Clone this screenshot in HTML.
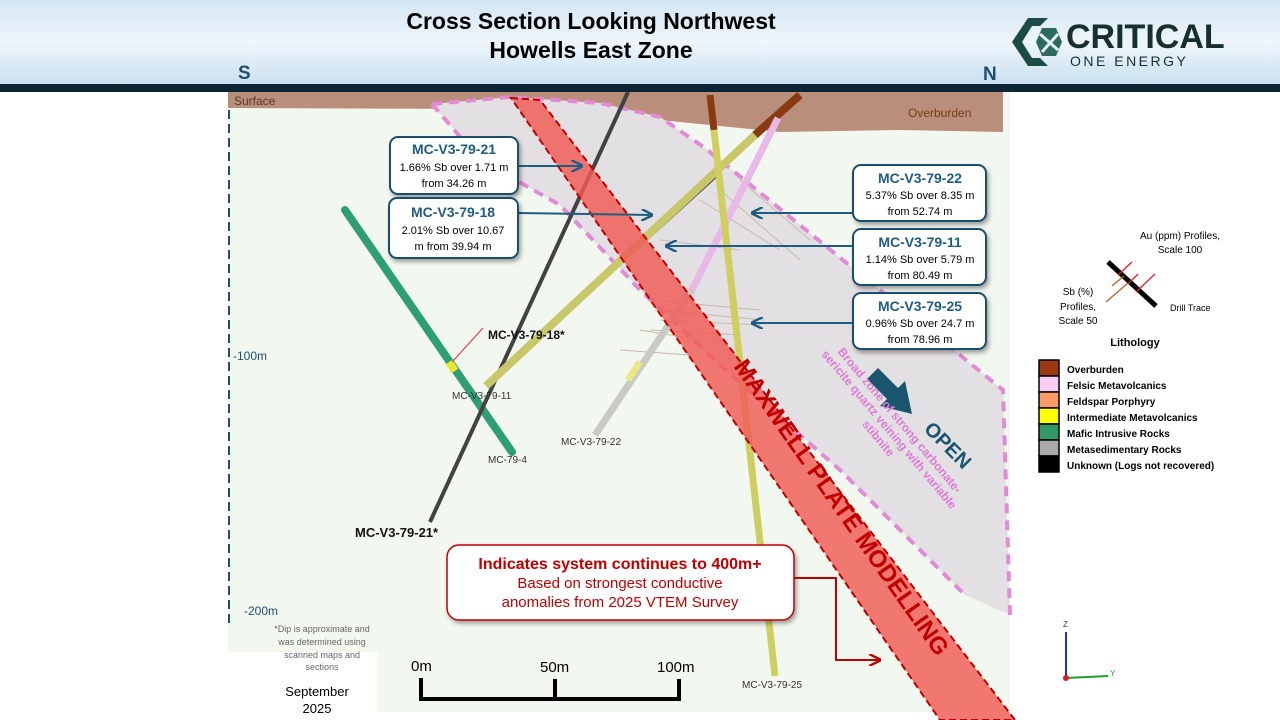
<!DOCTYPE html>
<html><head><meta charset="utf-8"><style>
html,body{margin:0;padding:0;width:1280px;height:720px;overflow:hidden;background:#fff;font-family:"Liberation Sans",sans-serif}
</style></head><body>
<svg width="1280" height="720" viewBox="0 0 1280 720" xmlns="http://www.w3.org/2000/svg" font-family="Liberation Sans, sans-serif">
<defs>
<linearGradient id="hd" x1="0" y1="0" x2="0" y2="1"><stop offset="0" stop-color="#d4e6f4"/><stop offset="0.5" stop-color="#eef5fb"/><stop offset="1" stop-color="#c9e0f0"/></linearGradient>
<filter id="sh" x="-10%" y="-10%" width="130%" height="140%"><feDropShadow dx="2" dy="3" stdDeviation="2" flood-color="#000" flood-opacity="0.35"/></filter>
<marker id="ar" viewBox="0 0 10 10" refX="9" refY="5" markerWidth="6" markerHeight="6" orient="auto"><path d="M0,0 L10,5 L0,10" fill="none" stroke="#1f5d80" stroke-width="2"/></marker>
<marker id="arr" viewBox="0 0 10 10" refX="9" refY="5" markerWidth="6" markerHeight="6" orient="auto"><path d="M0,0 L10,5 L0,10" fill="none" stroke="#c00000" stroke-width="2"/></marker>
</defs>
<!-- header -->
<rect x="0" y="0" width="1280" height="85" fill="url(#hd)"/>
<rect x="0" y="84" width="1280" height="8" fill="#0b2535"/>
<text x="591" y="29" text-anchor="middle" font-size="23" font-weight="bold" fill="#000">Cross Section Looking Northwest</text>
<text x="591" y="58" text-anchor="middle" font-size="23" font-weight="bold" fill="#000">Howells East Zone</text>
<!-- logo -->
<g fill="#1c4a44">
<path d="M1028,18 L1048,18 L1040,26 L1032,26 L1022,42 L1032,58 L1040,58 L1048,66 L1028,66 L1012,42 Z"/>
<path d="M1042,28 L1056,28 L1062,42 L1056,56 L1042,56 L1036,42 Z" fill="#2d6b60"/>
</g>
<path d="M1040,34 L1058,50 M1058,34 L1042,52" stroke="#e6f0f6" stroke-width="3"/>
<text x="1066" y="48" font-size="34" font-weight="bold" fill="#17302e">CRITICAL</text>
<text x="1070" y="66" font-size="14" fill="#17302e" letter-spacing="2.5">ONE ENERGY</text>
<text x="238" y="79" font-size="19" font-weight="bold" fill="#1f4e6e">S</text>
<text x="983" y="80" font-size="19" font-weight="bold" fill="#1f4e6e">N</text>
<!-- map background -->
<rect x="228" y="92" width="782" height="560" fill="#f2f8ef"/>
<rect x="378" y="92" width="632" height="620" fill="#f2f8ef"/>
<!-- overburden -->
<path d="M228,92 L1003,92 L1003,132 L900,130 L780,132 L700,124 L600,114 L500,109 L228,108 Z" fill="#b98f7b"/>
<text x="234" y="105" font-size="12" fill="#5a3a2a">Surface</text>
<text x="908" y="117" font-size="12" fill="#7a3a10">Overburden</text>
<!-- grey zone -->
<path d="M432,104 L510,97 L600,103 L660,117 L705,148 L1003,390 L1010,615 L965,595 L840,470 L720,365 L640,290 L560,205 L480,160 Z" fill="#e3e0e4"/>
<path d="M432,104 L510,97 L600,103 L660,117 L705,148 L1003,390 L1010,615" fill="none" stroke="#e38ad6" stroke-width="4" stroke-dasharray="10,7"/>
<path d="M432,104 L480,160 L560,205 L640,290 L720,365 L840,470 L965,595" fill="none" stroke="#e38ad6" stroke-width="4" stroke-dasharray="10,7"/>
<!-- axis -->
<line x1="229" y1="110" x2="229" y2="625" stroke="#1f4e6e" stroke-width="2" stroke-dasharray="9,5"/>
<text x="233" y="360" font-size="12" fill="#1f4e6e">-100m</text>
<text x="244" y="615" font-size="12" fill="#1f4e6e">-200m</text>
<!-- profile ticks -->
<g stroke="#c8b8a8" stroke-width="1">
<path d="M650,300 L760,310 M655,310 L765,320 M660,320 L760,325 M650,330 L740,335 M660,240 L740,250 M700,200 L780,250 M720,190 L800,260 M740,180 L810,240 M640,330 L700,340 M620,350 L690,355"/>
</g>
<!-- drill holes -->
<line x1="345" y1="210" x2="512" y2="452" stroke="#2e9e76" stroke-width="8" stroke-linecap="round"/>
<line x1="449" y1="362" x2="455" y2="371" stroke="#e8e830" stroke-width="8"/>
<line x1="628" y1="92" x2="430" y2="522" stroke="#424242" stroke-width="4"/>
<line x1="720" y1="172" x2="500" y2="372" stroke="#4a4a48" stroke-width="4"/>
<line x1="800" y1="95" x2="755" y2="135" stroke="#8a3a10" stroke-width="8"/>
<line x1="755" y1="135" x2="486" y2="386" stroke="#c8c86a" stroke-width="8"/>
<line x1="778" y1="118" x2="692" y2="290" stroke="#e8b8e8" stroke-width="7"/>
<line x1="692" y1="290" x2="595" y2="435" stroke="#c8cac4" stroke-width="7"/>
<line x1="628" y1="380" x2="640" y2="362" stroke="#e8e888" stroke-width="7"/>
<line x1="710" y1="95" x2="714" y2="130" stroke="#8a3a10" stroke-width="7"/>
<line x1="714" y1="130" x2="775" y2="676" stroke="#cfcf60" stroke-width="7"/>
<!-- red band -->
<path d="M511,98 L540,100 L1015,720 L940,720 Z" fill="#f05a56" fill-opacity="0.82" stroke="#c00000" stroke-width="2" stroke-dasharray="7,4"/>
<text transform="translate(835,512) rotate(55)" text-anchor="middle" font-size="24" font-weight="bold" fill="#c00000">MAXWELL PLATE MODELLING</text>
<!-- drill labels -->
<g font-size="10" fill="#333">
<text x="452" y="399">MC-V3-79-11</text>
<text x="488" y="463">MC-79-4</text>
<text x="561" y="445">MC-V3-79-22</text>
<text x="742" y="688">MC-V3-79-25</text>
</g>
<text x="488" y="339" font-size="12" font-weight="bold" fill="#111">MC-V3-79-18*</text>
<text x="355" y="537" font-size="13" font-weight="bold" fill="#111">MC-V3-79-21*</text>
<line x1="452" y1="362" x2="483" y2="328" stroke="#e03030" stroke-width="1"/>
<!-- arrows -->
<g stroke="#1f5d80" stroke-width="2" fill="none" marker-end="url(#ar)">
<line x1="518" y1="166" x2="582" y2="166"/>
<line x1="518" y1="213" x2="652" y2="215"/>
<line x1="853" y1="213" x2="752" y2="213"/>
<line x1="853" y1="246" x2="666" y2="246"/>
<line x1="853" y1="323" x2="752" y2="323"/>
</g>
<!-- callouts -->
<g filter="url(#sh)" fill="#fff" stroke="#1f4e6e" stroke-width="2">
<rect x="390" y="137" width="128" height="57" rx="8"/>
<rect x="389" y="198" width="129" height="60" rx="8"/>
<rect x="853" y="165" width="133" height="56" rx="8"/>
<rect x="853" y="229" width="133" height="56" rx="8"/>
<rect x="853" y="293" width="133" height="56" rx="8"/>
</g>
<g text-anchor="middle" fill="#000" font-size="11">
<text x="454" y="154" font-size="14" font-weight="bold" fill="#1f5d80">MC-V3-79-21</text>
<text x="454" y="171">1.66% Sb over 1.71 m</text>
<text x="454" y="187">from 34.26 m</text>
<text x="453" y="217" font-size="14" font-weight="bold" fill="#1f5d80">MC-V3-79-18</text>
<text x="453" y="234">2.01% Sb over 10.67</text>
<text x="453" y="250">m from 39.94 m</text>
<text x="920" y="183" font-size="14" font-weight="bold" fill="#1f5d80">MC-V3-79-22</text>
<text x="920" y="199">5.37% Sb over 8.35 m</text>
<text x="920" y="215">from 52.74 m</text>
<text x="920" y="247" font-size="14" font-weight="bold" fill="#1f5d80">MC-V3-79-11</text>
<text x="920" y="263">1.14% Sb over 5.79 m</text>
<text x="920" y="279">from 80.49 m</text>
<text x="920" y="311" font-size="14" font-weight="bold" fill="#1f5d80">MC-V3-79-25</text>
<text x="920" y="327">0.96% Sb over 24.7 m</text>
<text x="920" y="343">from 78.96 m</text>
</g>
<!-- OPEN arrow -->
<path d="M878,368 L898,388 L905,381 L912,414 L880,406 L887,399 L867,379 Z" fill="#1a5570"/>
<text transform="translate(943,450) rotate(45)" text-anchor="middle" font-size="20" font-weight="bold" fill="#1a5570">OPEN</text>
<text transform="translate(886,432) rotate(50)" text-anchor="middle" font-size="12" font-weight="bold" fill="#e07ad6">
<tspan x="0" y="-14">Broad zone of strong carbonate-</tspan><tspan x="0" y="0">sericite quartz veining with variable</tspan><tspan x="0" y="14">stibnite</tspan></text>
<!-- red callout -->
<rect x="447" y="545" width="347" height="75" rx="12" fill="#fff" stroke="#c00000" stroke-width="1.5" filter="url(#sh)"/>
<text x="620" y="569" text-anchor="middle" font-size="16" font-weight="bold" fill="#c00000">Indicates system continues to 400m+</text>
<text x="620" y="588" text-anchor="middle" font-size="15" fill="#c00000">Based on strongest conductive</text>
<text x="620" y="607" text-anchor="middle" font-size="15" fill="#c00000">anomalies from 2025 VTEM Survey</text>
<path d="M794,578 L836,578 L836,660 L880,660" fill="none" stroke="#c00000" stroke-width="2" marker-end="url(#arr)"/>
<!-- footnote -->
<g text-anchor="middle" font-size="9" fill="#666">
<text x="322" y="632">*Dip is approximate and</text>
<text x="322" y="645">was determined using</text>
<text x="322" y="658">scanned maps and</text>
<text x="322" y="670">sections</text>
</g>
<text x="317" y="696" text-anchor="middle" font-size="13" fill="#000">September</text>
<text x="317" y="713" text-anchor="middle" font-size="13" fill="#000">2025</text>
<!-- scale bar -->
<g stroke="#000" stroke-width="4" fill="none">
<path d="M421,678 L421,699 L679,699 L679,679"/><line x1="555" y1="679" x2="555" y2="699"/>
</g>
<text x="411" y="671" font-size="15" fill="#000">0m</text>
<text x="540" y="672" font-size="15" fill="#000">50m</text>
<text x="657" y="672" font-size="15" fill="#000">100m</text>
<!-- legend -->
<text x="1180" y="239" text-anchor="middle" font-size="10" fill="#000">Au (ppm) Profiles,</text>
<text x="1180" y="253" text-anchor="middle" font-size="10" fill="#000">Scale 100</text>
<line x1="1108" y1="262" x2="1156" y2="306" stroke="#000" stroke-width="5"/>
<g stroke="#e02020" stroke-width="1.3"><line x1="1118" y1="275" x2="1132" y2="262"/><line x1="1128" y1="284" x2="1138" y2="274"/><line x1="1136" y1="292" x2="1155" y2="274"/></g>
<g stroke="#c0602a" stroke-width="1.3"><line x1="1112" y1="286" x2="1124" y2="276"/><line x1="1106" y1="302" x2="1128" y2="283"/></g>
<text x="1170" y="311" font-size="9" fill="#000">Drill Trace</text>
<g text-anchor="middle" font-size="10" fill="#000"><text x="1078" y="295">Sb (%)</text><text x="1078" y="310">Profiles,</text><text x="1078" y="324">Scale 50</text></g>
<text x="1135" y="346" text-anchor="middle" font-size="11" font-weight="bold" fill="#000">Lithology</text>
<g stroke="#000" stroke-width="1.5">
<rect x="1039" y="360" width="20" height="16" fill="#9b3a10"/>
<rect x="1039" y="376" width="20" height="16" fill="#fdccf4"/>
<rect x="1039" y="392" width="20" height="16" fill="#fc9a6a"/>
<rect x="1039" y="408" width="20" height="16" fill="#ffff00"/>
<rect x="1039" y="424" width="20" height="16" fill="#329966"/>
<rect x="1039" y="440" width="20" height="16" fill="#aaaaaa"/>
<rect x="1039" y="456" width="20" height="16" fill="#000"/>
</g>
<g font-size="10" font-weight="bold" fill="#000">
<text x="1067" y="373">Overburden</text>
<text x="1067" y="389">Felsic Metavolcanics</text>
<text x="1067" y="405">Feldspar Porphyry</text>
<text x="1067" y="421">Intermediate Metavolcanics</text>
<text x="1067" y="437">Mafic Intrusive Rocks</text>
<text x="1067" y="453">Metasedimentary Rocks</text>
<text x="1067" y="469">Unknown (Logs not recovered)</text>
</g>
<!-- axis tripod -->
<line x1="1066" y1="678" x2="1066" y2="632" stroke="#2030c0" stroke-width="2"/>
<line x1="1066" y1="678" x2="1108" y2="676" stroke="#20a030" stroke-width="2"/>
<circle cx="1066" cy="678" r="3" fill="#d02020"/>
<text x="1063" y="627" font-size="8" fill="#2030c0">Z</text>
<text x="1110" y="676" font-size="8" fill="#20a030">Y</text>
</svg>
</body></html>
